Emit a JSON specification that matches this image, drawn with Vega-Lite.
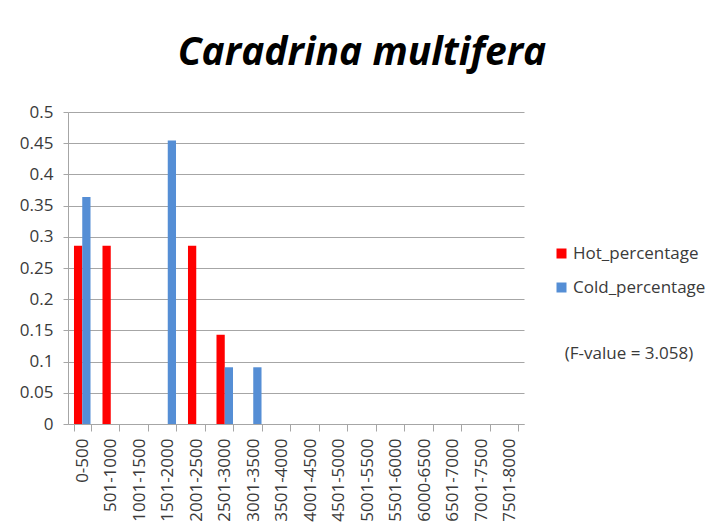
{
  "$schema": "https://vega.github.io/schema/vega-lite/v6.json",
  "width": 456,
  "height": 312,
  "autosize": {"type": "none"},
  "padding": {"left": 68, "top": 112, "right": 193, "bottom": 107},
  "background": "white",
  "title": {
    "text": "Caradrina multifera",
    "font": "Open Sans",
    "fontSize": 39,
    "fontStyle": "italic",
    "fontWeight": "bold",
    "color": "black",
    "anchor": "middle",
    "frame": "group",
    "dx": 66,
    "offset": 30
  },
  "data": {
    "values": [
      {"range": "0-500", "series": "Hot_percentage", "value": 0.2857},
      {"range": "0-500", "series": "Cold_percentage", "value": 0.3636},
      {"range": "501-1000", "series": "Hot_percentage", "value": 0.2857},
      {"range": "501-1000", "series": "Cold_percentage", "value": 0},
      {"range": "1001-1500", "series": "Hot_percentage", "value": 0},
      {"range": "1001-1500", "series": "Cold_percentage", "value": 0},
      {"range": "1501-2000", "series": "Hot_percentage", "value": 0},
      {"range": "1501-2000", "series": "Cold_percentage", "value": 0.4545},
      {"range": "2001-2500", "series": "Hot_percentage", "value": 0.2857},
      {"range": "2001-2500", "series": "Cold_percentage", "value": 0},
      {"range": "2501-3000", "series": "Hot_percentage", "value": 0.1429},
      {"range": "2501-3000", "series": "Cold_percentage", "value": 0.0909},
      {"range": "3001-3500", "series": "Hot_percentage", "value": 0},
      {"range": "3001-3500", "series": "Cold_percentage", "value": 0.0909},
      {"range": "3501-4000", "series": "Hot_percentage", "value": 0},
      {"range": "3501-4000", "series": "Cold_percentage", "value": 0},
      {"range": "4001-4500", "series": "Hot_percentage", "value": 0},
      {"range": "4001-4500", "series": "Cold_percentage", "value": 0},
      {"range": "4501-5000", "series": "Hot_percentage", "value": 0},
      {"range": "4501-5000", "series": "Cold_percentage", "value": 0},
      {"range": "5001-5500", "series": "Hot_percentage", "value": 0},
      {"range": "5001-5500", "series": "Cold_percentage", "value": 0},
      {"range": "5501-6000", "series": "Hot_percentage", "value": 0},
      {"range": "5501-6000", "series": "Cold_percentage", "value": 0},
      {"range": "6000-6500", "series": "Hot_percentage", "value": 0},
      {"range": "6000-6500", "series": "Cold_percentage", "value": 0},
      {"range": "6501-7000", "series": "Hot_percentage", "value": 0},
      {"range": "6501-7000", "series": "Cold_percentage", "value": 0},
      {"range": "7001-7500", "series": "Hot_percentage", "value": 0},
      {"range": "7001-7500", "series": "Cold_percentage", "value": 0},
      {"range": "7501-8000", "series": "Hot_percentage", "value": 0},
      {"range": "7501-8000", "series": "Cold_percentage", "value": 0}
    ]
  },
  "mark": {"type": "bar"},
  "encoding": {
    "x": {
      "field": "range",
      "type": "nominal",
      "sort": ["0-500", "501-1000", "1001-1500", "1501-2000", "2001-2500", "2501-3000", "3001-3500", "3501-4000", "4001-4500", "4501-5000", "5001-5500", "5501-6000", "6000-6500", "6501-7000", "7001-7500", "7501-8000"],
      "scale": {"paddingInner": 0.42, "paddingOuter": 0.21},
      "axis": {
        "title": null,
        "labelAngle": -90,
        "labelFont": "Open Sans",
        "labelFontSize": 17,
        "labelColor": "#3a3a3a",
        "labelPadding": 7,
        "tickSize": 7,
        "tickBand": "extent",
        "tickColor": "#a6a6a6",
        "domainColor": "#a6a6a6",
        "grid": false
      }
    },
    "xOffset": {
      "field": "series",
      "type": "nominal",
      "sort": ["Hot_percentage", "Cold_percentage"],
      "scale": {"paddingInner": 0}
    },
    "y": {
      "field": "value",
      "type": "quantitative",
      "scale": {"domain": [0, 0.5], "nice": false},
      "axis": {
        "title": null,
        "values": [0, 0.05, 0.1, 0.15, 0.2, 0.25, 0.3, 0.35, 0.4, 0.45, 0.5],
        "format": "~g",
        "labelFont": "Open Sans",
        "labelFontSize": 17,
        "labelColor": "#3a3a3a",
        "labelPadding": 10,
        "tickSize": 5,
        "tickColor": "#a6a6a6",
        "domainColor": "#a6a6a6",
        "grid": true,
        "gridColor": "#a6a6a6"
      }
    },
    "color": {
      "field": "series",
      "type": "nominal",
      "scale": {"domain": ["Hot_percentage", "Cold_percentage"], "range": ["#FF0000", "#558ED5"]},
      "legend": {
        "title": "(F-value = 3.058)",
        "titleOrient": "bottom",
        "titleAnchor": "middle",
        "titleFont": "Open Sans",
        "titleFontSize": 17,
        "titleFontWeight": "normal",
        "titleColor": "#3a3a3a",
        "titlePadding": 50,
        "orient": "none",
        "legendX": 485,
        "legendY": 133,
        "symbolType": "square",
        "symbolSize": 100,
        "symbolStrokeWidth": 0,
        "labelFont": "Open Sans",
        "labelFontSize": 17,
        "labelColor": "#3a3a3a",
        "labelOffset": 3,
        "rowPadding": 16
      }
    }
  },
  "config": {
    "view": {"stroke": null}
  }
}
